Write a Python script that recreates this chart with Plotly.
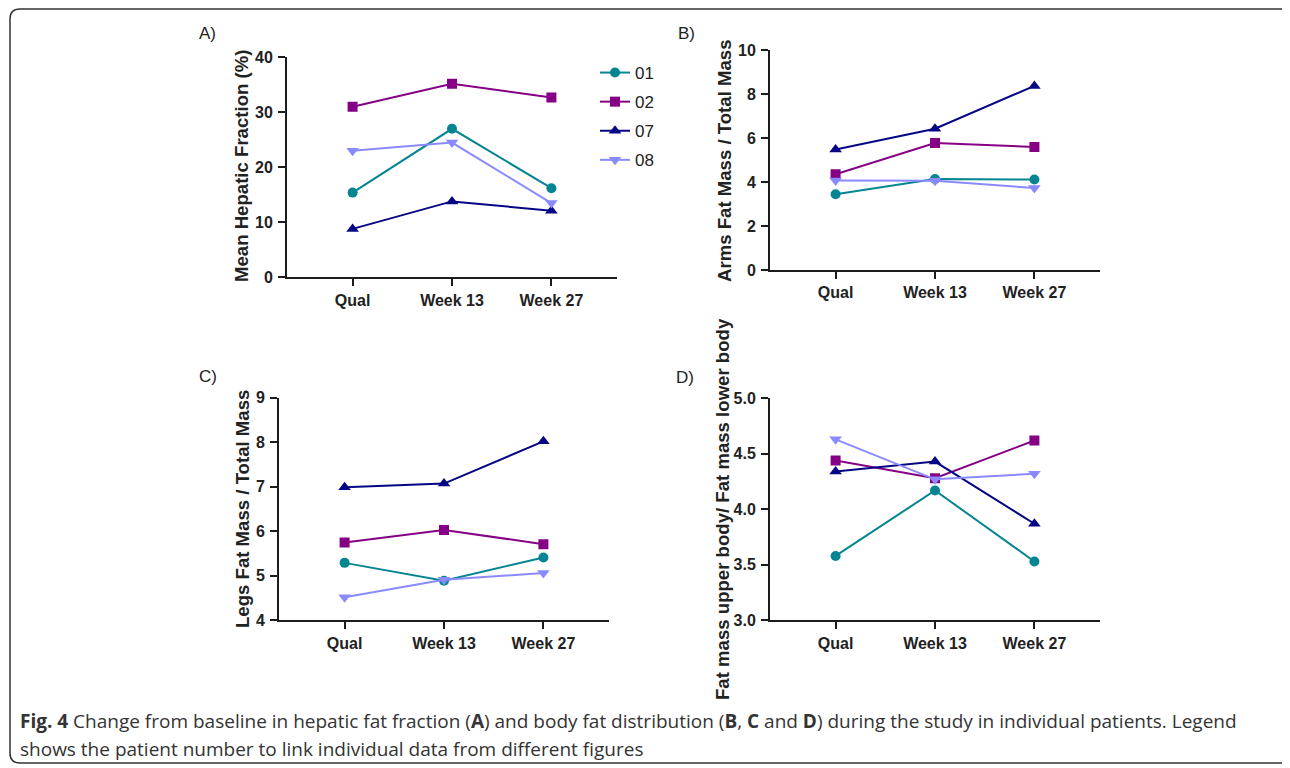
import plotly.graph_objects as go

W, H = 1290, 768
OFF = 8  # page body margin in the browser

timepoints = ["Qual", "Week 13", "Week 27"]
patients = ["01", "02", "07", "08"]

hepatic_fraction = {
    "01": [15.4, 27.0, 16.2],
    "02": [31.0, 35.2, 32.7],
    "07": [8.8, 13.8, 12.1],
    "08": [23.0, 24.5, 13.5],
}
arms_fat = {
    "01": [3.45, 4.14, 4.12],
    "02": [4.36, 5.78, 5.60],
    "07": [5.48, 6.43, 8.38],
    "08": [4.07, 4.06, 3.73],
}
legs_fat = {
    "01": [5.29, 4.89, 5.41],
    "02": [5.75, 6.03, 5.71],
    "07": [6.99, 7.07, 8.02],
    "08": [4.52, 4.91, 5.06],
}
upper_lower = {
    "01": [3.58, 4.17, 3.53],
    "02": [4.44, 4.28, 4.62],
    "07": [4.34, 4.43, 3.87],
    "08": [4.63, 4.27, 4.32],
}

colors = {"01": "#058591", "02": "#850085", "07": "#050585", "08": "#8a8aff"}
symbols = {"01": "circle", "02": "square", "07": "triangle-up", "08": "triangle-down"}
msizes = {"01": 10, "02": 10, "07": 11, "08": 11}

panels = [
    dict(data=hepatic_fraction, label="A)", title="Mean Hepatic Fraction (%)",
         px=(287, 617), py=(57.3, 277.3), yr=(0, 40), dt=10, fmt=None,
         lab=(197, 34), tit=(242, 166)),
    dict(data=arms_fat, label="B)", title="Arms Fat Mass / Total Mass",
         px=(770, 1100), py=(50.3, 270), yr=(0, 10), dt=2, fmt=None,
         lab=(676, 34), tit=(724, 161)),
    dict(data=legs_fat, label="C)", title="Legs Fat Mass / Total Mass",
         px=(279, 609), py=(397.7, 620.3), yr=(4, 9), dt=1, fmt=None,
         lab=(197, 376), tit=(242, 509)),
    dict(data=upper_lower, label="D)", title="Fat mass upper body/ Fat mass lower body",
         px=(770, 1100), py=(398.3, 620.3), yr=(3, 5), dt=0.5, fmt=".1f",
         lab=(674, 377), tit=(722, 509)),
]

def fx(x):
    return (x - OFF) / W

def fy(y):
    return 1 - (y - OFF) / H

fig = go.Figure()
axcolor = "#1c1c1c"
tickfont = dict(family="Liberation Sans, Arial", size=16, color="#222222", weight="bold")

annotations = []
for i, p in enumerate(panels):
    n = "" if i == 0 else str(i + 1)
    xa, ya = "xaxis" + n, "yaxis" + n
    for pid in patients:
        fig.add_trace(go.Scatter(
            x=timepoints, y=p["data"][pid], name=pid, mode="lines+markers",
            line=dict(color=colors[pid], width=2),
            marker=dict(symbol=symbols[pid], size=msizes[pid], color=colors[pid]),
            xaxis="x" + n, yaxis="y" + n, showlegend=(i == 0),
            legendgroup=pid,
        ))
    fig.layout[xa] = dict(
        domain=[fx(p["px"][0]), fx(p["px"][1])], anchor="y" + n,
        type="category", range=[-0.66, 2.66], showgrid=False, zeroline=False,
        showline=True, linecolor=axcolor, linewidth=2,
        ticks="outside", ticklen=7, tickwidth=2, tickcolor=axcolor,
        tickfont=tickfont, ticklabelstandoff=0, automargin=False,
    )
    fig.layout[ya] = dict(
        domain=[fy(p["py"][1]), fy(p["py"][0])], anchor="x" + n,
        range=list(p["yr"]), dtick=p["dt"], tick0=p["yr"][0], showgrid=False, zeroline=False,
        showline=True, linecolor=axcolor, linewidth=2,
        ticks="outside", ticklen=7, tickwidth=2, tickcolor=axcolor,
        tickfont=tickfont, tickformat=p["fmt"], ticklabelstandoff=2, automargin=False,
    )
    annotations.append(dict(
        text=p["label"], x=fx(p["lab"][0]), y=fy(p["lab"][1]), xref="paper", yref="paper",
        xanchor="left", yanchor="middle", showarrow=False,
        font=dict(family="Liberation Sans, Arial", size=17, color="#222222"),
    ))
    annotations.append(dict(
        text=p["title"], x=fx(p["tit"][0]), y=fy(p["tit"][1]), xref="paper", yref="paper",
        xanchor="center", yanchor="middle", textangle=-90, showarrow=False,
        font=dict(family="Liberation Sans, Arial", size=18.6, color="#222222", weight="bold"),
    ))

cap_font = dict(family="Open Sans", size=19, color="#333333")
annotations.append(dict(
    text="<b>Fig. 4</b> Change from baseline in hepatic fat fraction (<b>A</b>) and body fat distribution "
         "(<b>B</b>, <b>C</b> and <b>D</b>) during the study in individual patients. Legend",
    x=fx(18), y=fy(721), xref="paper", yref="paper", xanchor="left", yanchor="middle",
    showarrow=False, font=cap_font,
))
annotations.append(dict(
    text="shows the patient number to link individual data from different figures",
    x=fx(18), y=fy(749), xref="paper", yref="paper", xanchor="left", yanchor="middle",
    showarrow=False, font=cap_font,
))

l, t, r, b, rad = 10, 9, 1320, 763, 10
frame_path = (
    f"M {fx(r)},{fy(t)} L {fx(l + rad)},{fy(t)} "
    f"Q {fx(l)},{fy(t)} {fx(l)},{fy(t + rad)} "
    f"L {fx(l)},{fy(b - rad)} "
    f"Q {fx(l)},{fy(b)} {fx(l + rad)},{fy(b)} "
    f"L {fx(r)},{fy(b)}"
)

fig.update_layout(
    width=W, height=H, margin=dict(l=0, r=0, t=0, b=0, autoexpand=False),
    paper_bgcolor="white", plot_bgcolor="white",
    annotations=annotations,
    shapes=[dict(type="path", path=frame_path, xref="paper", yref="paper",
                 line=dict(color="#333333", width=1.5))],
    legend=dict(x=fx(595), y=fy(55), xanchor="left", yanchor="top",
                font=dict(family="Liberation Sans, Arial", size=17, color="#222222"),
                tracegroupgap=4, itemwidth=30, bgcolor="rgba(0,0,0,0)"),
)

fig.write_html("out.html")
